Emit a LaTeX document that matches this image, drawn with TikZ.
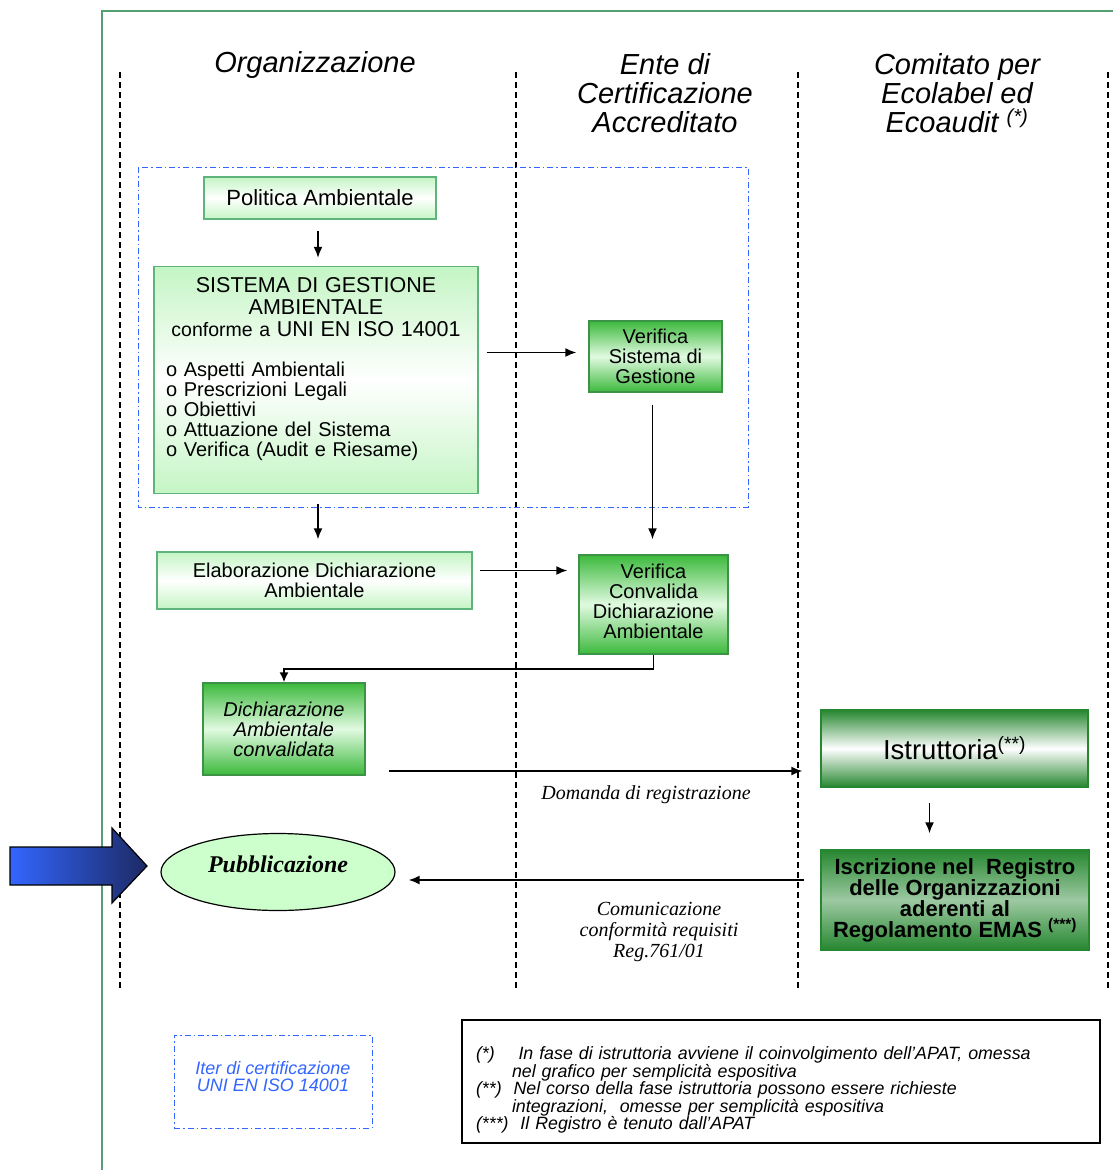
\documentclass[tikz,border=0pt]{standalone}
\usepackage{fontspec}
\setmainfont{Liberation Sans}
\newfontfamily\romanfont{Liberation Serif}
\usetikzlibrary{arrows.meta,shapes.geometric}

\definecolor{framegreen}{RGB}{84,160,112}
\definecolor{boxline}{RGB}{95,180,125}
\definecolor{palegreen}{RGB}{196,245,196}
\definecolor{midgreen}{RGB}{60,185,60}
\definecolor{deepgreen}{RGB}{38,135,48}
\definecolor{lightmid}{RGB}{225,250,225}
\definecolor{iterblue}{RGB}{51,102,255}
\definecolor{navyblue}{RGB}{28,42,100}
\definecolor{mintfill}{RGB}{204,255,204}

\newcommand{\fs}[2]{\fontsize{#1}{#2}\selectfont}

\tikzset{
  lane/.style={dash pattern=on 6pt off 4pt, line width=1.1pt},
  header/.style={font=\fs{29}{29}\itshape, align=center, inner sep=0pt},
  lightbox/.style={draw=boxline, line width=1.3pt, top color=palegreen,
    bottom color=palegreen, middle color=white, align=center, inner sep=0pt,
    font=\fs{20}{20}},
  darkbox/.style={draw=deepgreen!90, line width=1.3pt, top color=midgreen,
    bottom color=midgreen, middle color=lightmid, align=center, inner sep=0pt,
    font=\fs{20}{20}},
  deepbox/.style={draw=deepgreen, line width=1.3pt, top color=deepgreen,
    bottom color=deepgreen, middle color=white, align=center, inner sep=0pt},
  flow/.style={-{Latex[length=11pt,width=9pt]}, line width=1.8pt},
  itercol/.style={draw=iterblue, line width=1pt,
    dash pattern=on 6pt off 3pt on 1.5pt off 3pt},
  msg/.style={font=\fs{20}{21}\romanfont\itshape, align=center, inner sep=0pt}
}

\begin{document}
\begin{tikzpicture}[x=1pt,y=-1pt]
\useasboundingbox (0,0) rectangle (1113,1170);
% frame
\draw[framegreen, line width=1.8pt] (102,1170) -- (102,11) -- (1113,11);
% swimlanes
\foreach \lx in {120,516,798,1108}
  \draw[lane] (\lx,72) -- (\lx,990);
\node[header] (hOrg) at (315,65) {Organizzazione};
\node[header] (hEnte) at (665,93) {Ente di\\Certificazione\\Accreditato};
\node[header] (hComitato) at (957,93) {Comitato per\\Ecolabel ed\\Ecoaudit \textsuperscript{(*)}};

% iter ISO 14001
\draw[itercol] (138,167) rectangle (748,507);

\node[lightbox, minimum width=232pt, minimum height=42pt, font=\fs{22}{22}]
  (politica) at (320,198) {Politica Ambientale};
\node[lightbox, minimum width=324pt, minimum height=227pt, text width=300pt]
  (sga) at (316,380) {%
  {\centering\fs{21.5}{22}SISTEMA DI GESTIONE\\AMBIENTALE\\{\fs{19.5}{22}conforme a} UNI EN ISO 14001\par}
  \vspace{20pt}
  {\raggedright\fs{20}{20}o Aspetti Ambientali\\o Prescrizioni Legali\\o Obiettivi\\o Attuazione del Sistema\\o Verifica (Audit e Riesame)\rule[-26pt]{0pt}{1pt}\par}};
\node[darkbox, minimum width=133pt, minimum height=71pt]
  (verSis) at (655.5,356.5) {Verifica\\Sistema di\\Gestione};
\node[lightbox, minimum width=315pt, minimum height=57pt]
  (elab) at (314.5,580.5) {Elaborazione Dichiarazione\\Ambientale};
\node[darkbox, minimum width=149pt, minimum height=99pt]
  (verConv) at (653.5,604.5) {Verifica\\Convalida\\Dichiarazione\\Ambientale\rule[-7pt]{0pt}{1pt}};
\node[darkbox, minimum width=162pt, minimum height=92pt, font=\fs{20}{20}\itshape]
  (dichConv) at (284,729) {Dichiarazione\\Ambientale\\convalidata};
\node[deepbox, minimum width=267pt, minimum height=77pt, font=\fs{27.5}{27.5}]
  (istrutt) at (954.5,748.5) {Istruttoria\textsuperscript{(**)}};
\node[deepbox, middle color=deepgreen!45, minimum width=268pt, minimum height=100pt,
  font=\fs{22}{21}\bfseries]
  (iscriz) at (955,900) {Iscrizione nel\ \ Registro\\delle Organizzazioni\\aderenti al\\Regolamento EMAS \textsuperscript{(***)}};
\node[ellipse, draw, line width=1.2pt, fill=mintfill, minimum width=234pt,
  minimum height=77pt, font=\fs{24}{24}\romanfont\bfseries\itshape]
  (pubbl) at (278,872) {\raisebox{15pt}{Pubblicazione}};

% block arrow
\shade[left color=iterblue, right color=navyblue, draw=black, line width=1.2pt]
  (10,847) -- (112,847) -- (112,828) -- (147,866) -- (112,903) -- (112,885)
  -- (10,885) -- cycle;

% flow
\draw[flow, shorten <=11pt, shorten >=8pt] ([xshift=-2pt]politica.south) -- ([xshift=-2pt]politica.south |- sga.north);
\draw[flow, shorten <=8pt, shorten >=12pt] ([yshift=4pt]verSis.west -| sga.east) -- ([yshift=4pt]verSis.west);
\draw[flow, shorten <=12pt, shorten >=15pt] ([xshift=-3pt]verSis.south) -- ([xshift=-3pt]verSis.south |- verConv.north);
\draw[flow, shorten <=10pt, shorten >=12pt] ([xshift=2pt]sga.south) -- ([xshift=2pt]sga.south |- elab.north);
\draw[flow, shorten <=7pt, shorten >=11pt] ([yshift=10pt]elab.east) -- ([yshift=10pt]elab.east -| verConv.west);
\draw[flow, -{Latex[length=10pt,width=9pt]}] (verConv.south) -- ++(0,14) -| (dichConv.north);
\draw[flow, shorten <=23pt, shorten >=18pt] ([yshift=-42pt]dichConv.east) -- ([yshift=-42pt]dichConv.east -| istrutt.west);
\node[msg] (lblDomanda) at (646,795) {Domanda di registrazione};
\draw[flow, shorten <=15pt, shorten >=16pt] ([xshift=-25pt]istrutt.south) -- ([xshift=-25pt]istrutt.south |- iscriz.north);
\draw[flow, shorten <=16pt, shorten >=13pt] ([yshift=20pt]iscriz.west) -- ([yshift=20pt]iscriz.west -| pubbl.east);
\node[msg] (lblComunica) at (659,932) {Comunicazione\\conformità requisiti\\Reg.761/01};

% legend
\node[itercol, minimum width=198pt, minimum height=93pt, align=center,
  text=iterblue, font=\fs{18}{17}\itshape]
  (legenda) at (273,1081.5) {Iter di certificazione\\UNI EN ISO 14001\rule[-11pt]{0pt}{1pt}};
\node[draw, line width=1.2pt, minimum width=638pt, minimum height=123pt,
  text width=610pt, align=left, font=\fs{17.8}{17.5}\itshape]
  (note) at (781,1081.5) {\rule{0pt}{30pt}(*)\ \ \ \ In fase di istruttoria avviene il coinvolgimento dell’APAT, omessa\\
  \hspace*{36pt}nel grafico per semplicità espositiva\\
  (**)\ \ Nel corso della fase istruttoria possono essere richieste\\
  \hspace*{36pt}integrazioni,\ \ omesse per semplicità espositiva\\
  (***)\ \ Il Registro è tenuto dall’APAT};
\end{tikzpicture}
\end{document}
